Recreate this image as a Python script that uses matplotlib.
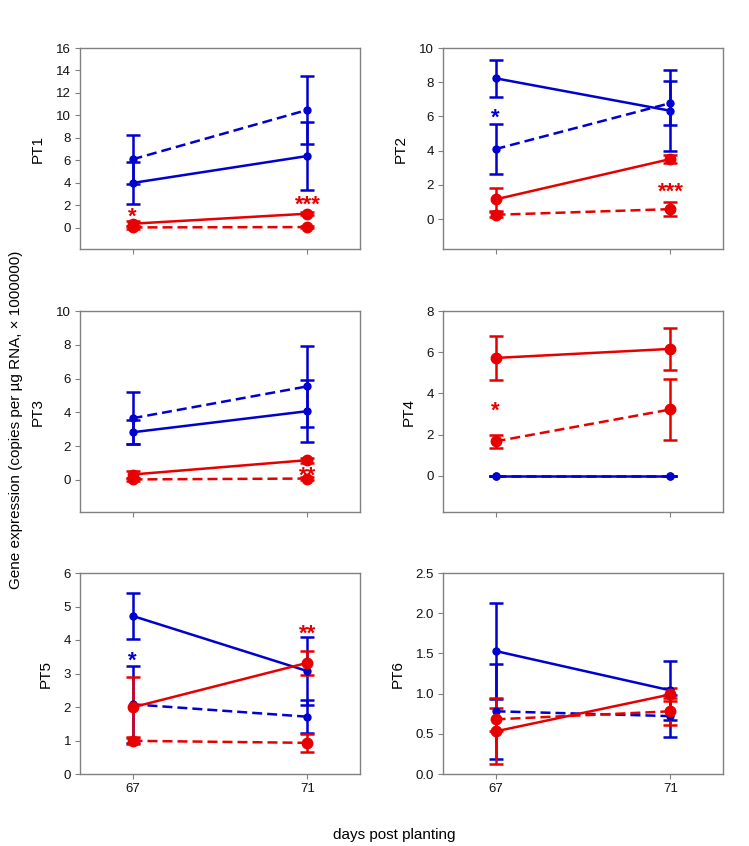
import matplotlib
matplotlib.use("Agg")
import matplotlib.pyplot as plt
from matplotlib.ticker import FormatStrFormatter

plt.rcParams['font.family'] = ['Liberation Sans', 'DejaVu Sans']

days = [67, 71]
names = ["PT1", "PT2", "PT3", "PT4", "PT5", "PT6"]

blue_solid = [[4.0, 6.4], [8.23, 6.33], [2.82, 4.07], [0.0, 0.0], [4.72, 3.07], [1.53, 1.04]]
blue_solid_err = [[1.9, 3.0], [1.08, 2.38], [0.7, 1.83], [0.0, 0.0], [0.69, 1.02], [0.6, 0.37]]
blue_dash = [[6.1, 10.5], [4.09, 6.78], [3.65, 5.54], [0.0, 0.0], [2.08, 1.71], [0.78, 0.72]]
blue_dash_err = [[2.2, 3.05], [1.45, 1.3], [1.55, 2.38], [0.0, 0.0], [1.15, 0.5], [0.59, 0.26]]
red_solid = [[0.38, 1.27], [1.15, 3.51], [0.32, 1.17], [5.72, 6.16], [1.99, 3.32], [0.53, 0.99]]
red_solid_err = [[0.2, 0.15], [0.68, 0.25], [0.2, 0.15], [1.07, 1.02], [0.91, 0.36], [0.41, 0.08]]
red_dash = [[0.05, 0.08], [0.25, 0.58], [0.03, 0.08], [1.67, 3.22], [0.99, 0.93], [0.68, 0.78]]
red_dash_err = [[0.1, 0.1], [0.15, 0.43], [0.1, 0.1], [0.31, 1.5], [0.1, 0.26], [0.14, 0.17]]

ylims = [(-1.87, 16), (-1.75, 10), (-1.9, 10), (-1.76, 8), (0, 6), (0, 2.5)]
ysteps = [2, 2, 2, 2, 1, 0.5]

# significance marks: panel index, day, y, text, colour
star_panel = [0, 0, 1, 1, 2, 3, 4, 4]
star_day = [67, 71, 67, 71, 71, 67, 67, 71]
star_y = [1.6, 2.64, 6.3, 2.0, 0.64, 3.5, 3.58, 4.4]
star_text = ["*", "***", "*", "***", "**", "*", "*", "**"]
star_col = ["r", "r", "b", "r", "r", "r", "b", "r"]

BLUE = '#0000d0'
RED = '#e80000'
cols = {"b": BLUE, "r": RED}

fig = plt.figure(figsize=(7.49, 8.46), dpi=100)

lefts = [80, 443]
tops = [48, 311, 573]
W, H = 280, 201

for i in range(6):
    row, col = i // 2, i % 2
    l = lefts[col] / 749
    b = (846 - tops[row] - H) / 846
    ax = fig.add_axes([l, b, W / 749, H / 846])

    dash = (0, (4, 2))
    ax.errorbar(days, blue_solid[i], yerr=blue_solid_err[i], color=BLUE, lw=1.8,
                marker='o', ms=5, capsize=5, capthick=1.8, elinewidth=1.8)
    ax.errorbar(days, blue_dash[i], yerr=blue_dash_err[i], color=BLUE, lw=1.8, ls=dash,
                marker='o', ms=5, capsize=5, capthick=1.8, elinewidth=1.8)
    ax.errorbar(days, red_solid[i], yerr=red_solid_err[i], color=RED, lw=1.8,
                marker='o', ms=7.5, capsize=5, capthick=1.8, elinewidth=1.8)
    ax.errorbar(days, red_dash[i], yerr=red_dash_err[i], color=RED, lw=1.8, ls=dash,
                marker='o', ms=7.5, capsize=5, capthick=1.8, elinewidth=1.8)

    ax.set_xlim(65.8, 72.2)
    ax.set_ylim(*ylims[i])
    top = ylims[i][1]
    ticks = []
    t = 0
    while t <= top + 1e-9:
        ticks.append(t)
        t += ysteps[i]
    ax.set_yticks(ticks)
    if i == 5:
        ax.yaxis.set_major_formatter(FormatStrFormatter('%.1f'))
    ax.set_xticks(days)
    if row == 2:
        ax.set_xticklabels([str(d) for d in days])
    else:
        ax.set_xticklabels([])

    for s in ax.spines.values():
        s.set_color('#808080')
        s.set_linewidth(1.0)
    ax.tick_params(axis='both', direction='out', length=3.5, width=0.8,
                   color='#808080', labelsize=9.5, labelcolor='#111111', pad=3)
    ax.set_ylabel(names[i], fontsize=11, labelpad=8)

    for k in range(len(star_panel)):
        if star_panel[k] == i:
            fs = 16
            ax.annotate(star_text[k], (star_day[k], star_y[k]), xytext=(0, -0.58 * fs),
                        textcoords='offset points', ha='center', va='baseline',
                        fontsize=fs, color=cols[star_col[k]], fontweight='bold')

fig.text(0.0207, 0.5035, "Gene expression (copies per \u00b5g RNA, \u00d7 1000000)",
         rotation=90, ha='center', va='center', fontsize=11)
fig.text(0.526, 0.013, "days post planting", ha='center', va='center', fontsize=11)

fig.savefig("out.png", dpi=100)
